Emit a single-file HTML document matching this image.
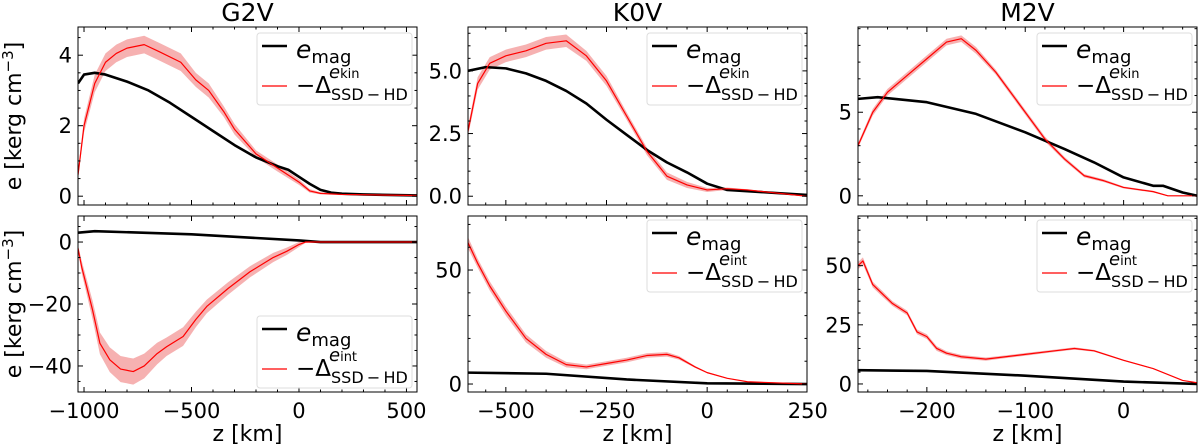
<!DOCTYPE html>
<html><head><meta charset="utf-8"><style>
body{margin:0;background:#fff}
svg{display:block;font-family:"DejaVu Sans","Liberation Sans",sans-serif}
</style></head><body>
<svg id="fig" width="1200" height="447" viewBox="0 0 1200 447" xmlns="http://www.w3.org/2000/svg"></svg>
<script>
// ---------- data ----------
const g2TopMagZ=[-1028,-1000,-950,-900,-800,-700,-600,-500,-400,-300,-200,-100,-50,0,50,100,150,200,300,549];
const g2TopMag=[3.2,3.45,3.5,3.45,3.25,3.0,2.65,2.25,1.85,1.45,1.1,0.85,0.75,0.55,0.35,0.18,0.1,0.07,0.05,0.02];
const g2TopKinZ=[-1028,-1000,-950,-900,-850,-800,-720,-650,-550,-480,-420,-350,-300,-200,-100,0,50,100,200,549];
const g2TopKin=[0.6,2.0,3.2,3.8,4.05,4.2,4.3,4.1,3.8,3.3,3.0,2.4,1.9,1.2,0.8,0.4,0.15,0.08,0.05,0.02];
const g2TopKinErr=[0.1,0.2,0.25,0.25,0.25,0.25,0.25,0.25,0.25,0.2,0.2,0.15,0.15,0.1,0.1,0.08,0.05,0.03,0.02,0.01];
const g2BotMagZ=[-1028,-950,-500,0,100,549];
const g2BotMag=[3.0,3.5,2.5,0.5,0,0];
const g2BotIntZ=[-1028,-1011,-960,-926,-880,-830,-771,-720,-660,-616,-539,-480,-429,-330,-228,-120,-57,0,30,100,549];
const g2BotInt=[-2,-8,-22,-32.7,-38,-41,-41.8,-40,-36,-33.8,-30.5,-25,-20.8,-15,-9.6,-5,-3,-0.8,0,0,0];
const g2BotIntErr=[1,2,3,3.5,4,4.2,4.2,4,3.5,3,3,2.5,2.2,2,1.8,1.5,1.2,0.8,0.3,0.1,0.1];

const k0TopMagZ=[-594,-550,-500,-450,-400,-350,-300,-250,-200,-150,-100,-50,0,50,100,248];
const k0TopMag=[5.0,5.15,5.1,4.9,4.6,4.2,3.7,3.05,2.45,1.85,1.35,0.95,0.5,0.25,0.2,0.05];
const k0TopKinZ=[-594,-570,-540,-500,-450,-400,-350,-300,-250,-200,-150,-100,-50,0,50,100,248];
const k0TopKin=[2.6,4.5,5.3,5.6,5.8,6.1,6.2,5.6,4.6,3.2,1.8,0.8,0.45,0.25,0.3,0.25,0.0];
const k0TopKinErr=[0.2,0.25,0.25,0.25,0.25,0.25,0.25,0.2,0.2,0.15,0.15,0.15,0.12,0.08,0.05,0.03,0.02];
const k0BotMagZ=[-594,-400,-200,0,248];
const k0BotMag=[5,4.5,2,0.3,0];
const k0BotIntZ=[-594,-570,-540,-500,-450,-400,-350,-300,-250,-200,-150,-100,-70,-30,0,50,100,248];
const k0BotInt=[62,53,43,32,20,13,8.5,7.5,9,10.5,12.5,13,11.5,7.5,5,2.5,1,0];
const k0BotIntErr=[2.5,2,2,2,1.8,1.5,1.2,1,1,1,1,1,0.8,0.4,0.3,0.2,0.1,0.1];

const m2TopMagZ=[-270,-250,-200,-150,-100,-60,-30,0,30,40,60,75];
const m2TopMag=[5.8,5.9,5.6,4.9,3.8,2.8,2.0,1.1,0.6,0.6,0.2,0.0];
const m2TopKinZ=[-270,-255,-240,-220,-200,-180,-165,-150,-130,-100,-80,-60,-40,-20,0,30,45,75];
const m2TopKin=[3.0,5.0,6.2,7.2,8.2,9.2,9.4,8.7,7.4,5.0,3.4,2.2,1.2,0.9,0.5,0.25,0.0,0.0];
const m2TopKinErr=[0.15,0.2,0.2,0.2,0.2,0.2,0.2,0.2,0.15,0.15,0.15,0.12,0.1,0.08,0.06,0.05,0.03,0.02];
const m2BotMagZ=[-270,-200,-100,0,75];
const m2BotMag=[5.8,5.5,3.5,1,0];
const m2BotIntZ=[-270,-265,-255,-245,-235,-220,-210,-200,-190,-180,-165,-140,-120,-100,-70,-50,-30,0,30,60,75];
const m2BotInt=[50,52,42,38,34,30,22,20,15,13,11.5,10.5,11.5,12.5,14,15,14,10,6.5,1.5,0.5];
const m2BotIntErr=[1.5,1.5,1.2,1.2,1,1,1,1,1,0.8,0.8,0.7,0.6,0.6,0.5,0.5,0.4,0.3,0.2,0.1,0.1];

const titles=["G2V","K0V","M2V"];
const g2XTicks=[-1000,-500,0,500], k0XTicks=[-500,-250,0,250], m2XTicks=[-200,-100,0];
const g2TopYTicks=[0,2,4], g2BotYTicks=[0,-20,-40];
const k0TopYTicks=["0.0","2.5","5.0"], k0BotYTicks=[0,50];
const m2TopYTicks=[0,5], m2BotYTicks=[0,25,50];

// ---------- drawing ----------
const NS="http://www.w3.org/2000/svg", svg=document.getElementById('fig');
function mk(tag,at,parent){const e=document.createElementNS(NS,tag);for(const k in at)e.setAttribute(k,at[k]);(parent||svg).appendChild(e);return e;}
function scale(d0,d1,r0,r1){return v=>r0+(v-d0)*(r1-r0)/(d1-d0);}

const cols=[
 {x0:78,x1:417,zmin:-1028,zmax:549,xt:g2XTicks,xminor:100,
  top:{ymin:-0.25,ymax:4.8,yt:g2TopYTicks,minor:0.5,magZ:g2TopMagZ,mag:g2TopMag,rZ:g2TopKinZ,r:g2TopKin,rE:g2TopKinErr,kind:"kin",legY:33},
  bot:{ymin:-48.4,ymax:8.4,yt:g2BotYTicks,minor:5,magZ:g2BotMagZ,mag:g2BotMag,rZ:g2BotIntZ,r:g2BotInt,rE:g2BotIntErr,kind:"int",legY:316}},
 {x0:468,x1:807,zmin:-594,zmax:248,xt:k0XTicks,xminor:50,
  top:{ymin:-0.35,ymax:6.75,yt:k0TopYTicks,minor:0.5,magZ:k0TopMagZ,mag:k0TopMag,rZ:k0TopKinZ,r:k0TopKin,rE:k0TopKinErr,kind:"kin",legY:33},
  bot:{ymin:-3.5,ymax:73.7,yt:k0BotYTicks,minor:10,magZ:k0BotMagZ,mag:k0BotMag,rZ:k0BotIntZ,r:k0BotInt,rE:k0BotIntErr,kind:"int",legY:220}},
 {x0:858,x1:1197,zmin:-270,zmax:74.6,xt:m2XTicks,xminor:20,
  top:{ymin:-0.55,ymax:10.1,yt:m2TopYTicks,minor:1,magZ:m2TopMagZ,mag:m2TopMag,rZ:m2TopKinZ,r:m2TopKin,rE:m2TopKinErr,kind:"kin",legY:33},
  bot:{ymin:-3.4,ymax:71,yt:m2BotYTicks,minor:5,magZ:m2BotMagZ,mag:m2BotMag,rZ:m2BotIntZ,r:m2BotInt,rE:m2BotIntErr,kind:"int",legY:220}}
];

function panel(c,p,y0,y1,ci,row,showX){
  const X=scale(c.zmin,c.zmax,c.x0,c.x1), Y=scale(p.ymin,p.ymax,y1,y0);
  const g=mk('g',{});
  
  
  const cid='clip'+ci+row;
  const cp=mk('clipPath',{id:cid},g);mk('rect',{x:c.x0,y:y0,width:c.x1-c.x0,height:y1-y0},cp);
  const plot=mk('g',{'clip-path':'url(#'+cid+')'},g);
  let up=p.rZ.map((z,i)=>X(z)+','+Y(p.r[i]+p.rE[i]));
  let dn=p.rZ.map((z,i)=>X(z)+','+Y(p.r[i]-p.rE[i])).reverse();
  const band=mk('polygon',{points:up.concat(dn).join(' '),fill:'#f5a3a3',opacity:0.85},plot);
  
  
  const mag=mk('polyline',{points:p.magZ.map((z,i)=>X(z)+','+Y(p.mag[i])).join(' '),fill:'none',stroke:'#000','stroke-width':2.6,'stroke-linejoin':'round'},plot);
  
  
  const red=mk('polyline',{points:p.rZ.map((z,i)=>X(z)+','+Y(p.r[i])).join(' '),fill:'none',stroke:'#ff0000','stroke-width':1.2,'stroke-linejoin':'round'},plot);
  
  
  mk('rect',{x:c.x0,y:y0,width:c.x1-c.x0,height:y1-y0,fill:'none',stroke:'#000','stroke-width':1},g);
  const zs=Math.ceil(c.zmin/c.xminor)*c.xminor;
  for(let z=zs;z<=c.zmax;z+=c.xminor){
    const x=X(z),maj=c.xt.includes(z),L=maj?5:2.5;
    mk('line',{x1:x,x2:x,y1:y1,y2:y1-L,stroke:'#000'},g);mk('line',{x1:x,x2:x,y1:y0,y2:y0+L,stroke:'#000'},g);
  }
  const ytv=p.yt.map(Number);
  const ys=Math.ceil(p.ymin/p.minor)*p.minor;
  for(let v=ys;v<=p.ymax+1e-9;v+=p.minor){
    const y=Y(v),maj=ytv.some(t=>Math.abs(t-v)<1e-6),L=maj?5:2.5;
    mk('line',{x1:c.x0,x2:c.x0+L,y1:y,y2:y,stroke:'#000'},g);mk('line',{x1:c.x1,x2:c.x1-L,y1:y,y2:y,stroke:'#000'},g);
  }
  p.yt.forEach(t=>{const tx=mk('text',{x:c.x0-6,y:Y(Number(t))+7.5,'text-anchor':'end','font-size':21},g);tx.textContent=String(t).replace('-','\u2212');
    
    });
  if(showX){c.xt.forEach(t=>{const tx=mk('text',{x:X(t),y:y1+26,'text-anchor':'middle','font-size':21},g);tx.textContent=String(t).replace('-','\u2212');
    
    });}
  const ly=p.legY;
  const lg=mk('g',{},g);
  
  
  const bx=c.x0+179;
  mk('rect',{x:bx,y:ly,width:155,height:72,rx:3,fill:'#fff','fill-opacity':0.85,stroke:'#ddd'},lg);
  mk('line',{x1:bx+5,x2:bx+30,y1:ly+13,y2:ly+13,stroke:'#000','stroke-width':2.6},lg);
  const t1=mk('text',{x:bx+39,y:ly+25,'font-size':25},lg);
  t1.innerHTML='<tspan font-style="italic">e</tspan><tspan font-size="18" dy="5">mag</tspan>';
  mk('line',{x1:bx+5,x2:bx+30,y1:ly+53,y2:ly+53,stroke:'#ff0000','stroke-width':1.2},lg);
  const t2=mk('text',{x:bx+39,y:ly+60,'font-size':23},lg);
  t2.innerHTML='\u2212\u0394<tspan font-size="16" dy="7">SSD\u2009\u2212\u2009HD</tspan>';
  const t3=mk('text',{x:bx+72,y:ly+45,'font-size':15},lg);
  t3.innerHTML='<tspan font-style="italic" font-size="18">e</tspan><tspan font-size="13">'+p.kind+'</tspan>';
}

cols.forEach((c,ci)=>{
  panel(c,c.top,27,205,ci,'top',false);
  panel(c,c.bot,216,392,ci,'bottom',true);
  const t=mk('text',{x:(c.x0+c.x1)/2,y:21,'text-anchor':'middle','font-size':25});t.textContent=titles[ci];
  
  
  const xl=mk('text',{x:(c.x0+c.x1)/2,y:441,'text-anchor':'middle','font-size':22});xl.textContent='z [km]';
  
  
});
[[116,'y-axis-title-top'],[304,'y-axis-title-bottom']].forEach(([cy,n])=>{
  const t=mk('text',{x:0,y:0,'text-anchor':'middle','font-size':22,transform:'translate(21,'+cy+') rotate(-90)'});
  t.innerHTML='e [kerg cm<tspan font-size="15" dy="-8">\u22123</tspan><tspan dy="8">]</tspan>';
  
  
});
</script>
</body></html>
